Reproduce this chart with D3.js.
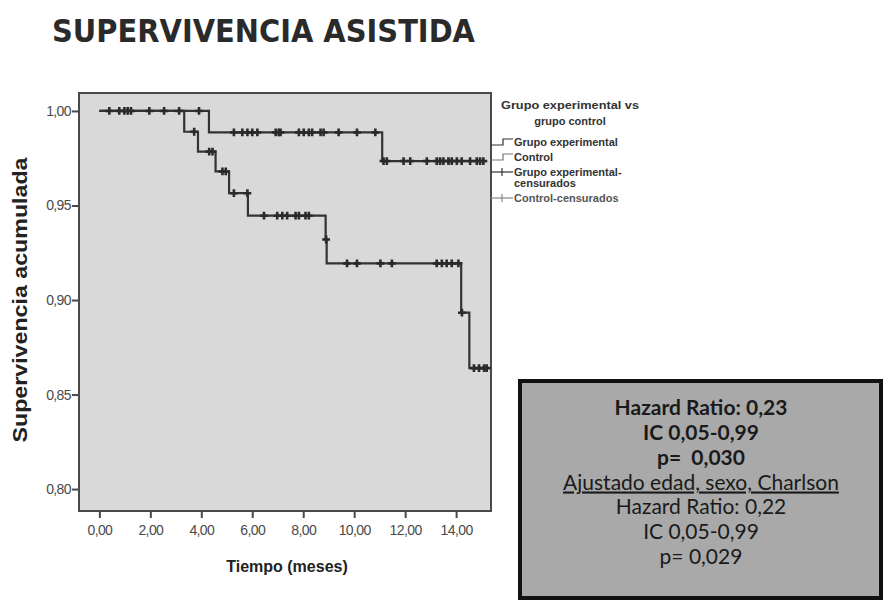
<!DOCTYPE html>
<html>
<head>
<meta charset="utf-8">
<script src="https://cdn.jsdelivr.net/npm/d3@7"></script>
<style>
  body { margin: 0; background: #fff; }
</style>
</head>
<body>
<div id="chart"></div>
<script>
const width = 888;
const height = 603;

// Kaplan-Meier curves (event times and survival after each event)
const expEventTimes = [4.3, 11.1];
const expSurv = [0.9887, 0.9735];
const expEnd = 15.2;
const expCensored = [0.39, 0.78, 0.98, 1.11, 1.24, 1.96, 2.54, 3.13, 3.91,
    5.28, 5.61, 5.81, 6.0, 6.2, 6.92, 7.04, 7.11, 7.83, 8.02, 8.22, 8.35, 8.68, 8.8, 9.39, 10.11, 10.83,
    11.15, 11.28, 11.94, 12.2, 12.85, 13.24, 13.37, 13.5, 13.7, 13.83, 14.03, 14.22, 14.55, 14.81, 14.94, 15.07];

const ctlEventTimes = [3.33, 3.87, 4.56, 5.09, 5.83, 8.88, 8.92, 14.2, 14.52];
const ctlSurv = [0.989, 0.9785, 0.968, 0.9565, 0.9446, 0.932, 0.9194, 0.8933, 0.864];
const ctlEnd = 15.25;
const ctlCensored = [3.72, 4.31, 4.44, 4.83, 4.96, 5.28, 5.81, 6.46, 6.98, 7.18, 7.37, 7.7, 7.83, 8.09, 8.22,
    8.9, 9.72, 10.11, 11.03, 11.48, 13.24, 13.44, 13.63, 13.83, 14.09, 14.23, 14.7, 14.9, 15.1, 15.2];

const xTicks = [0, 2, 4, 6, 8, 10, 12, 14];
const yTicks = [0.80, 0.85, 0.90, 0.95, 1.00];

const legendItems = ["Grupo experimental", "Control", "Grupo experimental-|censurados", "Control-censurados"];
const statsLines = ["Hazard Ratio: 0,23", "IC 0,05-0,99", "p=  0,030", "Ajustado edad, sexo, Charlson",
    "Hazard Ratio: 0,22", "IC 0,05-0,99", "p= 0,029"];

const plot = {left: 79, right: 491, top: 93, bottom: 511};

const x = d3.scaleLinear().domain([-0.8, 15.37]).range([plot.left, plot.right]);
const y = d3.scaleLinear().domain([0.7884, 1.0095]).range([plot.bottom, plot.top]);

const fmt = d => d.toFixed(2).replace(".", ",");

const svg = d3.select("#chart")
    .append("svg")
    .attr("width", width)
    .attr("height", height)
    .attr("viewBox", [0, 0, width, height]);

// title
svg.append("text")
    .attr("x", 52)
    .attr("y", 42)
    .attr("textLength", 423)
    .attr("lengthAdjust", "spacingAndGlyphs")
    .style("font", "bold 32px 'DejaVu Sans'")
    .attr("fill", "#2a2a2a")
    .text("SUPERVIVENCIA ASISTIDA");

// plot background
svg.append("rect")
    .attr("x", plot.left)
    .attr("y", plot.top)
    .attr("width", plot.right - plot.left)
    .attr("height", plot.bottom - plot.top)
    .attr("fill", "#d9d9d9")
    .attr("stroke", "#4a4a4a")
    .attr("stroke-width", 2);

function survAt(times, surv, t) {
    let s = 1;
    times.forEach((et, i) => { if (et <= t) s = surv[i]; });
    return s;
}

function stepPoints(times, surv, end) {
    const pts = [[0, 1]];
    let s = 1;
    times.forEach((t, i) => {
        pts.push([t, s]);
        s = surv[i];
        pts.push([t, s]);
    });
    pts.push([end, s]);
    return pts;
}

const line = d3.line().x(d => x(d[0])).y(d => y(d[1]));

const groups = [
    {times: expEventTimes, surv: expSurv, end: expEnd, cens: expCensored},
    {times: ctlEventTimes, surv: ctlSurv, end: ctlEnd, cens: ctlCensored}
];

groups.forEach(g => {
    svg.append("path")
        .attr("d", line(stepPoints(g.times, g.surv, g.end)))
        .attr("fill", "none")
        .attr("stroke", "#333")
        .attr("stroke-width", 2.2);
});

const cross = d3.symbol().type(d3.symbolCross).size(34);

groups.forEach(g => {
    svg.append("g")
        .selectAll("path")
        .data(g.cens)
        .join("path")
        .attr("transform", t => `translate(${x(t)},${y(survAt(g.times, g.surv, t))})`)
        .attr("d", cross)
        .attr("fill", "#2a2a2a");
});

// axes
const yAxis = svg.append("g")
    .attr("transform", `translate(${plot.left},0)`)
    .call(d3.axisLeft(y).tickValues(yTicks).tickFormat(fmt).tickSize(7).tickSizeOuter(0));

const xAxis = svg.append("g")
    .attr("transform", `translate(0,${plot.bottom})`)
    .call(d3.axisBottom(x).tickValues(xTicks).tickFormat(fmt).tickSize(7).tickSizeOuter(0));

[yAxis, xAxis].forEach(a => {
    a.select(".domain").remove();
    a.selectAll("line").attr("stroke", "#4a4a4a").attr("stroke-width", 2);
    a.selectAll("text")
        .style("font", "14px 'Liberation Sans'")
        .style("letter-spacing", "-0.6px")
        .attr("fill", "#4a4a4a");
});
yAxis.selectAll("text").attr("x", -8);
xAxis.selectAll("text").attr("y", 14);

// axis titles
svg.append("text")
    .attr("transform", "translate(27,300) rotate(-90)")
    .attr("text-anchor", "middle")
    .attr("textLength", 285)
    .attr("lengthAdjust", "spacingAndGlyphs")
    .style("font", "bold 21px 'Liberation Sans'")
    .attr("fill", "#222")
    .text("Supervivencia acumulada");

svg.append("text")
    .attr("x", 287)
    .attr("y", 572)
    .attr("text-anchor", "middle")
    .style("font", "bold 16px 'Liberation Sans'")
    .attr("fill", "#222")
    .text("Tiempo (meses)");

// legend
const legend = svg.append("g").style("font", "bold 11px 'Liberation Sans'").attr("fill", "#333");
legend.append("text").attr("x", 570).attr("y", 109).attr("text-anchor", "middle")
    .attr("textLength", 138).attr("lengthAdjust", "spacingAndGlyphs").text("Grupo experimental vs");
legend.append("text").attr("x", 570).attr("y", 125).attr("text-anchor", "middle").text("grupo control");

const legendY = [142, 157, 172, 198];
legendItems.forEach((label, i) => {
    const ly = legendY[i];
    const parts = label.split("|");
    const g = legend.append("g");
    if (i < 2) {
        g.append("path")
            .attr("d", `M491,${ly + 3}H503V${ly - 3}H513`)
            .attr("fill", "none")
            .attr("stroke", i === 0 ? "#333" : "#777")
            .attr("stroke-width", 1.2);
    } else {
        g.append("path")
            .attr("d", `M491,${ly}H513`)
            .attr("stroke", i === 2 ? "#333" : "#888")
            .attr("stroke-width", 1.2);
        g.append("path")
            .attr("d", `M502,${ly - 4}V${ly + 4}`)
            .attr("stroke", i === 2 ? "#333" : "#888")
            .attr("stroke-width", 1.2);
    }
    parts.forEach((p, j) => {
        g.append("text")
            .attr("x", 514)
            .attr("y", ly + 4 + j * 11)
            .attr("fill", i === 3 ? "#555" : "#333")
            .text(p);
    });
});

// stats box
svg.append("rect")
    .attr("x", 520)
    .attr("y", 381)
    .attr("width", 361)
    .attr("height", 217)
    .attr("fill", "#a9a9a9")
    .attr("stroke", "#111")
    .attr("stroke-width", 4);

const lineY = d3.scalePoint().domain(d3.range(statsLines.length)).range([415, 564]);

svg.append("g")
    .selectAll("text")
    .data(statsLines)
    .join("text")
    .attr("x", 701)
    .attr("y", (d, i) => lineY(i))
    .attr("text-anchor", "middle")
    .style("white-space", "pre")
    .style("font", (d, i) => `${i < 3 ? "bold " : ""}21px Lato`)
    .style("text-decoration", (d, i) => i === 3 ? "underline" : null)
    .attr("fill", "#1a1a1a")
    .text(d => d);
</script>
</body>
</html>
